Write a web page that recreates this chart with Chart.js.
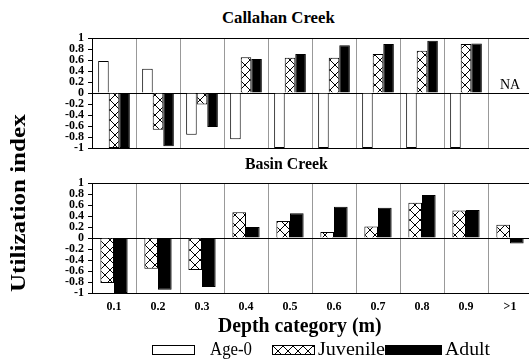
<!DOCTYPE html>
<html>
<head>
<meta charset="utf-8">
<script src="https://cdn.jsdelivr.net/npm/chart.js@4"></script>
<style>
  body { margin: 0; background: #fff; overflow: hidden; }
  #wrap { position: relative; width: 529px; height: 360px; overflow: hidden; font-family: "Liberation Serif", "DejaVu Serif Condensed", "DejaVu Serif", serif; font-stretch: condensed; color: #000; }
  canvas { position: absolute; left: 0; }
  .txt { position: absolute; white-space: nowrap; transform-origin: 0 0; }
  .title { font-weight: bold; font-size: 16px; }
  .sw { position: absolute; height: 10px; box-sizing: border-box; border: 1px solid #000; }
</style>
</head>
<body>
<div id="wrap">
  <div class="txt title" data-x="222" data-w="113" style="top:9px;">Callahan Creek</div>
  <canvas id="topChart" width="540" height="160" style="top:0px;"></canvas>
  <div class="txt title" data-x="245" data-w="83" style="top:155px;">Basin Creek</div>
  <canvas id="bottomChart" width="540" height="160" style="top:160px;"></canvas>
  <div class="txt" id="yTitle" style="font-weight:bold; font-size:21px;">Utilization index</div>
  <div class="txt" data-x="218" data-w="164" style="top:314px; font-weight:bold; font-size:20px;">Depth category (m)</div>
  <div class="sw" style="left:152px; top:345px; width:43px; background:#fff;"></div>
  <div class="txt" data-x="210" data-w="42" style="top:339px; font-size:18px;">Age-0</div>
  <div class="sw" id="juvSwatch" style="left:272px; top:345px; width:43px;"></div>
  <div class="txt" data-x="318" data-w="67" style="top:339px; font-size:18px;">Juvenile</div>
  <div class="sw" style="left:385px; top:345px; width:57px; background:#000;"></div>
  <div class="txt" data-x="445" data-w="45" style="top:339px; font-size:18px;">Adult</div>
</div>
<script>
const depthLabels = ['0.1', '0.2', '0.3', '0.4', '0.5', '0.6', '0.7', '0.8', '0.9', '>1'];

// Callahan Creek (no data for >1)
const callahanAge0 = [0.58, 0.44, -0.76, -0.84, -1, -1, -1, -1, -1, null];
const callahanJuvenile = [-1, -0.67, -0.21, 0.65, 0.64, 0.64, 0.71, 0.77, 0.89, null];
const callahanAdult = [-1, -0.97, -0.62, 0.62, 0.71, 0.87, 0.89, 0.95, 0.9, null];

// Basin Creek
const basinJuvenile = [-0.82, -0.56, -0.58, 0.47, 0.31, 0.11, 0.21, 0.64, 0.5, 0.24];
const basinAdult = [-1, -0.94, -0.89, 0.2, 0.45, 0.57, 0.55, 0.78, 0.51, -0.1];

const yMin = -1, yMax = 1, yStep = 0.2;
const serif = '"Liberation Serif", "DejaVu Serif Condensed", "DejaVu Serif", serif';

// squeeze the html labels to the widths seen in the figure
document.querySelectorAll('.txt[data-w]').forEach((el) => {
    const w = el.offsetWidth;
    el.style.left = el.dataset.x + 'px';
    el.style.transform = 'scaleX(' + (el.dataset.w / w) + ')';
});
// y title: rotated, spans roughly y 112..292 at x ~18
(function () {
    const el = document.getElementById('yTitle');
    const w = el.offsetWidth, h = el.offsetHeight;
    const s = 178 / w;
    el.style.left = (18 - h / 2) + 'px';
    el.style.top = '292px';
    el.style.transform = 'rotate(-90deg) scaleX(' + s + ')';
})();

// cross hatch used for juveniles
function makeHatch() {
    const c = document.createElement('canvas');
    c.width = 10; c.height = 10;
    const g = c.getContext('2d');
    g.fillStyle = '#fff';
    g.fillRect(0, 0, 10, 10);
    g.strokeStyle = '#000';
    g.lineWidth = 1;
    g.beginPath();
    g.moveTo(0, 0); g.lineTo(10, 10);
    g.moveTo(10, 0); g.lineTo(0, 10);
    g.stroke();
    return c;
}
const hatchCanvas = makeHatch();
document.getElementById('juvSwatch').style.background = 'url(' + hatchCanvas.toDataURL() + ')';

function hatchFor(ctx) {
    return ctx.createPattern(hatchCanvas, 'repeat');
}

const naLabel = {
    id: 'naLabel',
    afterDatasetsDraw(chart) {
        const ctx = chart.ctx;
        const x = chart.scales.x.getPixelForValue(9);
        const y = chart.scales.y.getPixelForValue(0);
        ctx.save();
        ctx.font = '14px ' + serif;
        ctx.fillStyle = '#000';
        ctx.textAlign = 'center';
        ctx.textBaseline = 'bottom';
        ctx.fillText('NA', x, y - 1);
        ctx.restore();
    }
};

function makePanel(id, datasets, opts) {
    const ctx = document.getElementById(id).getContext('2d');
    return new Chart(ctx, {
        type: 'bar',
        data: { labels: depthLabels, datasets: datasets },
        options: {
            responsive: false,
            animation: false,
            devicePixelRatio: 1,
            categoryPercentage: opts.catPct,
            barPercentage: 1,
            layout: { padding: opts.padding },
            plugins: { legend: { display: false }, tooltip: { enabled: false } },
            scales: {
                x: {
                    offset: true,
                    grid: { offset: true, color: '#999', drawTicks: false },
                    border: { color: '#000' },
                    ticks: {
                        display: opts.showX,
                        padding: 7,
                        color: '#000',
                        font: { family: serif, size: 12, weight: 'bold' }
                    },
                    afterFit: (scale) => { scale.height = opts.xHeight; }
                },
                y: {
                    min: yMin,
                    max: yMax,
                    grid: {
                        color: (c) => (c.tick && (Math.abs(c.tick.value) < 1e-6 || c.tick.value > 0.999)) ? '#000' : 'rgba(0,0,0,0)',
                        tickColor: '#000',
                        tickLength: 4
                    },
                    border: { color: '#000' },
                    ticks: {
                        stepSize: yStep,
                        autoSkip: false,
                        padding: 4,
                        color: '#000',
                        font: { family: serif, size: 12, weight: 'bold' },
                        callback: (v) => String(Number(v.toFixed(1)))
                    },
                    afterFit: (scale) => { scale.width = 92; }
                }
            }
        },
        plugins: opts.plugins || []
    });
}

const topCtx = document.getElementById('topChart').getContext('2d');
makePanel('topChart', [
    { label: 'Age-0', data: callahanAge0, backgroundColor: '#fff', borderColor: '#000', borderWidth: 1 },
    { label: 'Juvenile', data: callahanJuvenile, backgroundColor: hatchFor(topCtx), borderColor: '#000', borderWidth: 1 },
    { label: 'Adult', data: callahanAdult, backgroundColor: '#000', borderColor: '#000', borderWidth: 1 }
], { catPct: 0.72, padding: { top: 38, bottom: 12, left: 0, right: 8 }, showX: false, xHeight: 0, plugins: [naLabel] });

const botCtx = document.getElementById('bottomChart').getContext('2d');
makePanel('bottomChart', [
    { label: 'Juvenile', data: basinJuvenile, backgroundColor: hatchFor(botCtx), borderColor: '#000', borderWidth: 1 },
    { label: 'Adult', data: basinAdult, backgroundColor: '#000', borderColor: '#000', borderWidth: 1 }
], { catPct: 0.62, padding: { top: 23, bottom: 0, left: 0, right: 8 }, showX: true, xHeight: 27 });
</script>
</body>
</html>
